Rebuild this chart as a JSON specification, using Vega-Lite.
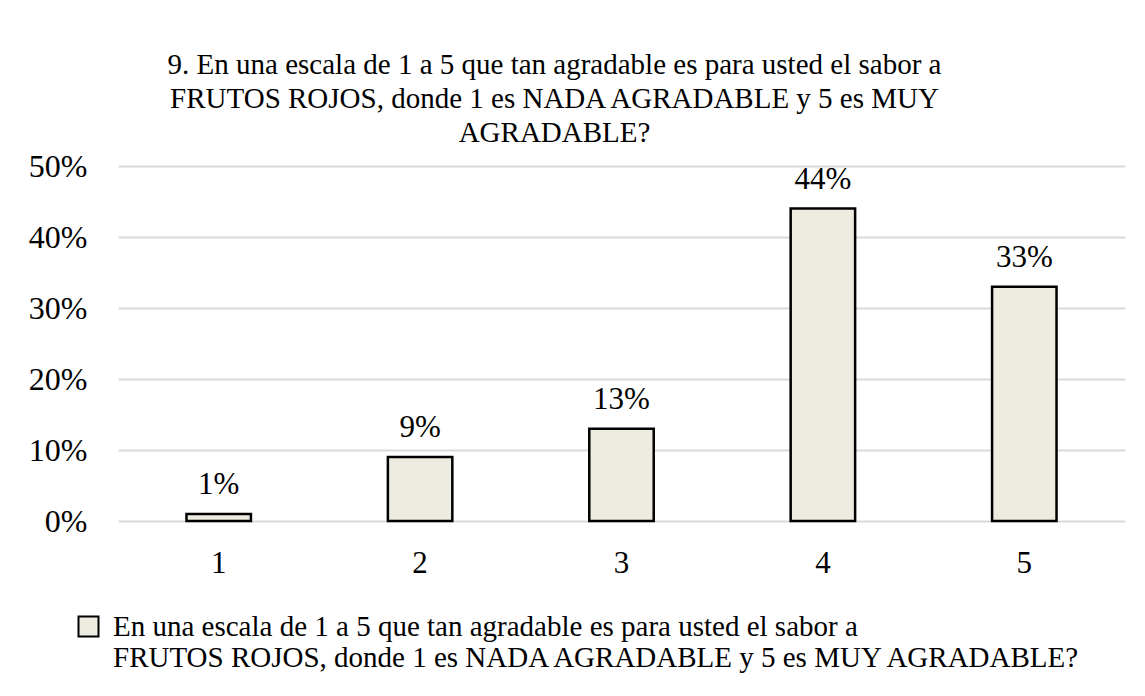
{
  "$schema": "https://vega.github.io/schema/vega-lite/v6.json",
  "width": 1007,
  "height": 355,
  "autosize": {"type": "none"},
  "padding": {"left": 118, "top": 166, "right": 20, "bottom": 175},
  "background": "white",
  "title": {
    "text": ["9. En una escala de 1 a 5 que tan agradable es para usted el sabor a", "FRUTOS ROJOS, donde 1 es NADA AGRADABLE y 5 es MUY", "AGRADABLE?"],
    "anchor": "middle",
    "frame": "group",
    "dx": -67,
    "offset": 2,
    "font": "Liberation Serif",
    "fontSize": 29,
    "fontWeight": "normal",
    "lineHeight": 34,
    "color": "black"
  },
  "data": {
    "values": [
      {"rating": "1", "pct": 0.01, "series": "En una escala de 1 a 5 que tan agradable es para usted el sabor a FRUTOS ROJOS, donde 1 es NADA AGRADABLE y 5 es MUY AGRADABLE?"},
      {"rating": "2", "pct": 0.09, "series": "En una escala de 1 a 5 que tan agradable es para usted el sabor a FRUTOS ROJOS, donde 1 es NADA AGRADABLE y 5 es MUY AGRADABLE?"},
      {"rating": "3", "pct": 0.13, "series": "En una escala de 1 a 5 que tan agradable es para usted el sabor a FRUTOS ROJOS, donde 1 es NADA AGRADABLE y 5 es MUY AGRADABLE?"},
      {"rating": "4", "pct": 0.44, "series": "En una escala de 1 a 5 que tan agradable es para usted el sabor a FRUTOS ROJOS, donde 1 es NADA AGRADABLE y 5 es MUY AGRADABLE?"},
      {"rating": "5", "pct": 0.33, "series": "En una escala de 1 a 5 que tan agradable es para usted el sabor a FRUTOS ROJOS, donde 1 es NADA AGRADABLE y 5 es MUY AGRADABLE?"}
    ]
  },
  "encoding": {
    "x": {
      "field": "rating",
      "type": "nominal",
      "scale": {"paddingInner": 0.68, "paddingOuter": 0.34},
      "axis": {
        "title": null,
        "labelAngle": 0,
        "labelFont": "Liberation Serif",
        "labelFontSize": 31,
        "labelColor": "black",
        "labelPadding": 27,
        "ticks": false,
        "domain": false
      }
    },
    "y": {
      "field": "pct",
      "type": "quantitative",
      "scale": {"domain": [0, 0.5]},
      "axis": {
        "title": null,
        "format": ".0%",
        "values": [0, 0.1, 0.2, 0.3, 0.4, 0.5],
        "labelFont": "Liberation Serif",
        "labelFontSize": 32,
        "labelColor": "black",
        "labelPadding": 31,
        "ticks": false,
        "domain": false,
        "grid": true,
        "gridColor": "#D9D9D9",
        "gridWidth": 2
      }
    }
  },
  "layer": [
    {
      "mark": {"type": "bar", "stroke": "black", "strokeWidth": 2.5},
      "encoding": {
        "fill": {
          "field": "series",
          "type": "nominal",
          "scale": {"range": ["#EEECE1"]},
          "legend": {
            "title": null,
            "orient": "none",
            "legendX": -44,
            "legendY": 446,
            "padding": 0,
            "direction": "horizontal",
            "symbolType": "square",
            "symbolSize": 400,
            "symbolStrokeColor": "black",
            "symbolStrokeWidth": 2,
            "labelFont": "Liberation Serif",
            "labelFontSize": 29,
            "labelColor": "black",
            "labelLimit": 2000,
            "labelOffset": 10,
            "labelExpr": "[trim(slice(datum.label, 0, indexof(datum.label, 'FRUTOS'))), slice(datum.label, indexof(datum.label, 'FRUTOS'))]"
          }
        }
      }
    },
    {
      "mark": {"type": "text", "baseline": "bottom", "dy": -13, "font": "Liberation Serif", "fontSize": 31, "color": "black"},
      "encoding": {
        "text": {"field": "pct", "type": "quantitative", "format": ".0%"}
      }
    }
  ],
  "config": {
    "view": {"stroke": null}
  }
}
